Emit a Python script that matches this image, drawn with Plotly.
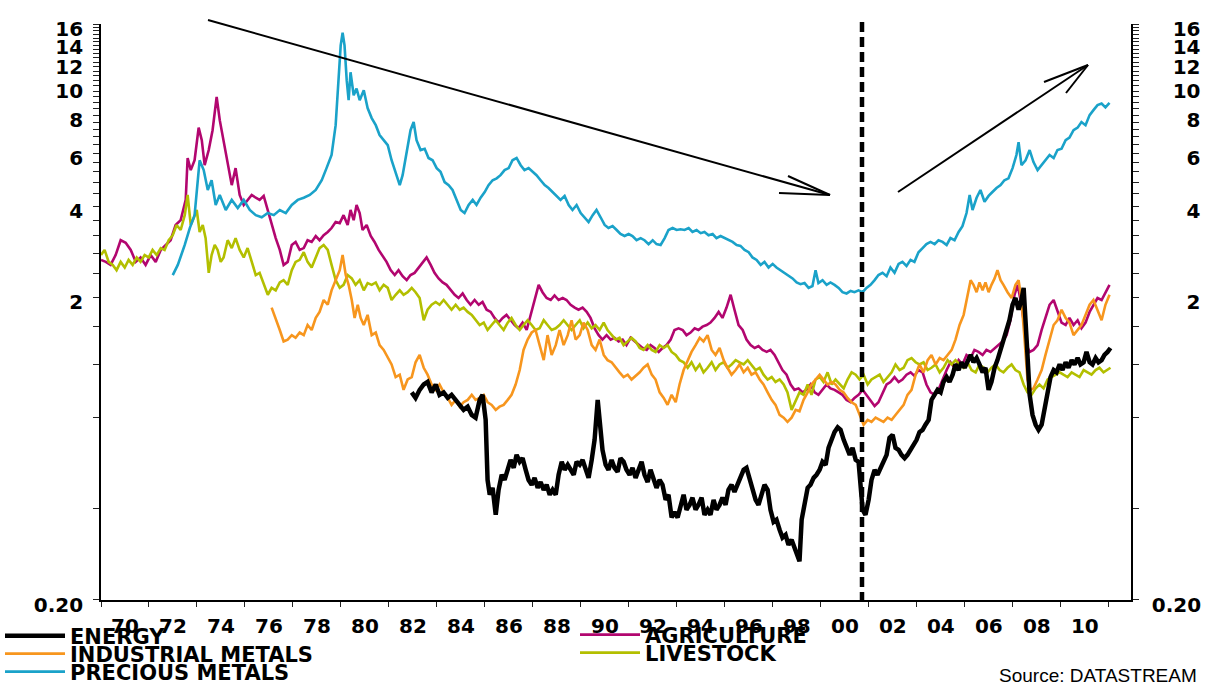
import math
import pandas as pd
import plotly.graph_objects as go

# ---------------- data ----------------
AGRI_YEARS = [1970.00, 1970.20, 1970.40, 1970.61, 1970.82, 1971.03, 1971.24, 1971.45, 1971.65, 1971.86,
              1972.07, 1972.28, 1972.49, 1972.70, 1972.90, 1973.11, 1973.32, 1973.53, 1973.61, 1973.74,
              1973.90, 1974.07, 1974.20, 1974.32, 1974.49, 1974.65, 1974.82, 1974.95,
              1975.11, 1975.28, 1975.45, 1975.61, 1975.78, 1975.95, 1976.11, 1976.28, 1976.45, 1976.61,
              1976.78, 1976.95, 1977.11, 1977.28, 1977.45, 1977.61, 1977.78, 1977.95, 1978.11, 1978.28,
              1978.45, 1978.61, 1978.78, 1978.95, 1979.11, 1979.28, 1979.45, 1979.61, 1979.78, 1979.95,
              1980.11, 1980.28, 1980.40, 1980.53, 1980.65, 1980.78, 1980.90,
              1981.07, 1981.24, 1981.40, 1981.57, 1981.74, 1981.90, 1982.07, 1982.24, 1982.40, 1982.57,
              1982.74, 1982.90, 1983.07, 1983.24, 1983.40, 1983.57, 1983.74, 1983.90, 1984.07, 1984.24,
              1984.40, 1984.57, 1984.74, 1984.90, 1985.07, 1985.24, 1985.40, 1985.57, 1985.74, 1985.90,
              1986.07, 1986.24, 1986.40, 1986.57, 1986.74, 1986.90, 1987.07, 1987.24, 1987.40, 1987.57,
              1987.74, 1987.90, 1988.07, 1988.24, 1988.40, 1988.57, 1988.74, 1988.90, 1989.07, 1989.24,
              1989.40, 1989.57, 1989.74, 1989.90, 1990.07, 1990.24, 1990.40, 1990.57, 1990.74, 1990.90,
              1991.07, 1991.24, 1991.40, 1991.57, 1991.74, 1991.90, 1992.07, 1992.24, 1992.40, 1992.57,
              1992.74, 1992.90, 1993.07, 1993.24, 1993.40, 1993.57, 1993.74, 1993.90, 1994.07, 1994.24,
              1994.40, 1994.57, 1994.74, 1994.90, 1995.07, 1995.24, 1995.40, 1995.57, 1995.74, 1995.90,
              1996.07, 1996.24, 1996.40, 1996.57, 1996.74, 1996.90, 1997.07, 1997.24, 1997.40, 1997.57,
              1997.74, 1997.90, 1998.07, 1998.24, 1998.40, 1998.57, 1998.74, 1998.90, 1999.07, 1999.24,
              1999.40, 1999.57, 1999.74, 1999.90, 2000.07, 2000.24, 2000.40, 2000.57, 2000.74, 2000.90,
              2001.07, 2001.24, 2001.40, 2001.57, 2001.74, 2001.90, 2002.07, 2002.24, 2002.40, 2002.57,
              2002.74, 2002.90, 2003.07, 2003.24, 2003.40, 2003.57, 2003.74, 2003.90, 2004.07, 2004.24,
              2004.40, 2004.57, 2004.74, 2004.90, 2005.07, 2005.24, 2005.40, 2005.57, 2005.74, 2005.90,
              2006.07, 2006.24, 2006.40, 2006.57, 2006.74, 2006.90, 2007.07, 2007.24, 2007.40, 2007.57,
              2007.74, 2007.90, 2008.07, 2008.20, 2008.32, 2008.45, 2008.57, 2008.70, 2008.86, 2009.03,
              2009.20, 2009.36, 2009.53, 2009.70, 2009.86, 2010.03, 2010.20, 2010.36, 2010.53, 2010.70,
              2010.86, 2011.03, 2011.20, 2011.36, 2011.53, 2011.70, 2011.86, 2012.03]
AGRI_VALUES = [2.66, 2.62, 2.56, 2.76, 3.09, 3.03, 2.87, 2.62, 2.71, 2.56,
               2.76, 2.62, 2.87, 2.98, 3.09, 3.47, 3.60, 4.20, 5.78, 5.27,
               5.68, 7.28, 6.62, 5.47, 6.14, 7.14, 9.20, 7.71,
               6.62, 5.68, 4.70, 5.35, 4.36, 4.04, 4.20, 4.36, 4.27, 4.20,
               4.33, 3.89, 3.47, 3.14, 2.87, 2.56, 2.62, 2.98, 3.05, 2.87,
               2.91, 3.09, 3.05, 3.19, 3.09, 3.21, 3.29, 3.39, 3.55, 3.52,
               3.74, 3.47, 3.89, 3.60, 4.04, 3.80, 3.34,
               3.47, 3.19, 3.05, 2.87, 2.74, 2.62, 2.46, 2.37, 2.46, 2.35,
               2.28, 2.37, 2.41, 2.51, 2.62, 2.71, 2.56, 2.41, 2.31, 2.24,
               2.20, 2.11, 2.04, 1.99, 2.06, 1.96, 1.89, 1.96, 1.89, 1.93,
               1.82, 1.79, 1.71, 1.65, 1.71, 1.75, 1.68, 1.62, 1.58, 1.65,
               1.56, 1.75, 1.96, 2.20, 2.08, 1.99, 1.96, 2.03, 1.96, 1.99,
               1.96, 1.89, 1.85, 1.82, 1.85, 1.79, 1.71, 1.58, 1.50, 1.45,
               1.50, 1.45, 1.47, 1.43, 1.45, 1.39, 1.47, 1.43, 1.39, 1.36,
               1.34, 1.39, 1.36, 1.32, 1.36, 1.39, 1.45, 1.56, 1.58, 1.56,
               1.50, 1.53, 1.58, 1.56, 1.60, 1.62, 1.65, 1.71, 1.79, 1.71,
               1.85, 2.04, 1.82, 1.62, 1.56, 1.45, 1.39, 1.36, 1.38, 1.34,
               1.32, 1.34, 1.29, 1.22, 1.15, 1.11, 1.03, 0.989, 1.00, 0.97,
               0.989, 1.03, 0.97, 0.952, 0.989, 1.03, 1.00, 0.989, 0.97, 0.952,
               0.916, 0.90, 0.93, 0.952, 0.989, 0.952, 0.916, 0.875, 0.90, 0.97,
               1.03, 1.05, 1.09, 1.05, 1.07, 1.11, 1.13, 1.10, 1.15, 1.13,
               1.03, 0.97, 0.952, 0.989, 1.07, 1.15, 1.22, 1.17, 1.24, 1.20,
               1.29, 1.26, 1.34, 1.32, 1.29, 1.34, 1.32, 1.36, 1.39, 1.43,
               1.50, 1.68, 2.04, 2.20, 1.96, 1.68, 1.39, 1.32, 1.34, 1.39,
               1.56, 1.71, 1.89, 1.96, 1.79, 1.65, 1.62, 1.71, 1.62, 1.68,
               1.58, 1.65, 1.79, 1.89, 1.99, 1.96, 2.08, 2.20]

LIVE_YEARS = [1970.00, 1970.15, 1970.32, 1970.49, 1970.65, 1970.82, 1970.99, 1971.15, 1971.32, 1971.49,
              1971.65, 1971.82, 1971.99, 1972.15, 1972.32, 1972.49, 1972.65, 1972.82, 1972.99, 1973.15,
              1973.32, 1973.49, 1973.61, 1973.74, 1973.86, 1973.99, 1974.11, 1974.24, 1974.36, 1974.49,
              1974.61, 1974.74, 1974.86, 1974.99,
              1975.11, 1975.28, 1975.45, 1975.61, 1975.78, 1975.95, 1976.11, 1976.28, 1976.45, 1976.61,
              1976.78, 1976.95, 1977.11, 1977.28, 1977.45, 1977.61, 1977.78, 1977.95, 1978.11, 1978.28,
              1978.45, 1978.61, 1978.78, 1978.95, 1979.11, 1979.28, 1979.45, 1979.61, 1979.78, 1979.95,
              1980.11, 1980.28, 1980.45, 1980.61, 1980.78, 1980.95, 1981.11, 1981.28, 1981.45, 1981.61,
              1981.78, 1981.95, 1982.11, 1982.28, 1982.45, 1982.61, 1982.78, 1982.95, 1983.11, 1983.28,
              1983.45, 1983.61, 1983.78, 1983.95, 1984.11, 1984.28, 1984.45, 1984.61, 1984.78, 1984.95,
              1985.11, 1985.28, 1985.45, 1985.61, 1985.78, 1985.95, 1986.11, 1986.28, 1986.45, 1986.61,
              1986.78, 1986.95, 1987.11, 1987.28, 1987.45, 1987.61, 1987.78, 1987.95, 1988.11, 1988.28,
              1988.45, 1988.61, 1988.78, 1988.95, 1989.11, 1989.28, 1989.45, 1989.61, 1989.78, 1989.95,
              1990.11, 1990.28, 1990.45, 1990.61, 1990.78, 1990.95, 1991.11, 1991.28, 1991.45, 1991.61,
              1991.78, 1991.95, 1992.11, 1992.28, 1992.45, 1992.61, 1992.78, 1992.95, 1993.11, 1993.28,
              1993.45, 1993.61, 1993.78, 1993.95, 1994.11, 1994.28, 1994.45, 1994.61, 1994.78, 1994.95,
              1995.11, 1995.28, 1995.45, 1995.61, 1995.78, 1995.95, 1996.11, 1996.28, 1996.45, 1996.61,
              1996.78, 1996.95, 1997.11, 1997.28, 1997.45, 1997.61, 1997.78, 1997.95, 1998.11, 1998.28,
              1998.45, 1998.61, 1998.78, 1998.95, 1999.11, 1999.28, 1999.45, 1999.61, 1999.78, 1999.95,
              2000.11, 2000.28, 2000.45, 2000.61, 2000.78, 2000.95, 2001.11, 2001.28, 2001.45, 2001.61,
              2001.78, 2001.95, 2002.11, 2002.28, 2002.45, 2002.61, 2002.78, 2002.95, 2003.11, 2003.28,
              2003.45, 2003.61, 2003.78, 2003.95, 2004.11, 2004.28, 2004.45, 2004.61, 2004.78, 2004.95,
              2005.11, 2005.28, 2005.45, 2005.61, 2005.78, 2005.95, 2006.11, 2006.28, 2006.45, 2006.61,
              2006.78, 2006.95, 2007.11, 2007.28, 2007.45, 2007.61, 2007.78, 2007.95, 2008.11, 2008.28,
              2008.45, 2008.61, 2008.78, 2008.95, 2009.11, 2009.28, 2009.45, 2009.61, 2009.78, 2009.95,
              2010.11, 2010.28, 2010.45, 2010.61, 2010.78, 2010.95, 2011.11, 2011.28, 2011.45, 2011.61,
              2011.78, 2011.95, 2012.07]
LIVE_VALUES = [2.76, 2.87, 2.62, 2.56, 2.46, 2.62, 2.51, 2.66, 2.56, 2.71,
               2.62, 2.76, 2.71, 2.87, 2.76, 2.91, 2.87, 3.09, 3.21, 3.47,
               3.34, 3.74, 4.36, 3.47, 3.65, 3.89, 3.29, 3.47, 3.14, 2.41,
               2.76, 2.98, 2.87, 2.62,
               2.71, 3.09, 2.91, 3.14, 2.87, 2.71, 2.91, 2.62, 2.37, 2.41,
               2.20, 2.04, 2.15, 2.11, 2.24, 2.28, 2.20, 2.46, 2.62, 2.66,
               2.82, 2.62, 2.51, 2.71, 2.91, 2.98, 2.87, 2.56, 2.28, 2.15,
               2.20, 2.37, 2.31, 2.20, 2.28, 2.11, 2.23, 2.20, 2.24, 2.11,
               2.20, 2.15, 1.96, 2.04, 2.11, 2.04, 2.08, 2.15, 2.08, 1.99,
               1.68, 1.82, 1.89, 1.93, 1.89, 1.96, 1.89, 1.82, 1.89, 1.82,
               1.85, 1.79, 1.75, 1.68, 1.62, 1.65, 1.56, 1.62, 1.68, 1.62,
               1.56, 1.65, 1.71, 1.62, 1.56, 1.62, 1.68, 1.62, 1.56, 1.58,
               1.68, 1.62, 1.56, 1.58, 1.62, 1.68, 1.62, 1.56, 1.62, 1.68,
               1.58, 1.65, 1.58, 1.62, 1.56, 1.65, 1.56, 1.50, 1.45, 1.47,
               1.39, 1.43, 1.47, 1.43, 1.36, 1.34, 1.39, 1.34, 1.32, 1.39,
               1.36, 1.39, 1.32, 1.29, 1.24, 1.22, 1.17, 1.22, 1.15, 1.20,
               1.13, 1.17, 1.22, 1.15, 1.20, 1.22, 1.17, 1.20, 1.24, 1.22,
               1.20, 1.24, 1.20, 1.15, 1.17, 1.11, 1.07, 1.09, 1.05, 1.07,
               1.03, 0.97, 0.849, 0.916, 0.97, 0.952, 1.03, 0.952, 1.07, 1.09,
               1.05, 1.13, 1.03, 1.07, 1.03, 1.00, 1.07, 1.13, 1.11, 1.07,
               1.11, 1.03, 1.07, 1.09, 1.11, 1.05, 1.09, 1.13, 1.20, 1.15,
               1.17, 1.24, 1.26, 1.22, 1.20, 1.22, 1.15, 1.17, 1.20, 1.13,
               1.17, 1.24, 1.20, 1.24, 1.20, 1.17, 1.22, 1.15, 1.13, 1.20,
               1.17, 1.13, 1.17, 1.20, 1.15, 1.13, 1.17, 1.20, 1.15, 1.13,
               1.03, 0.97, 0.952, 1.00, 1.03, 1.00, 1.07, 1.09, 1.11, 1.13,
               1.11, 1.09, 1.13, 1.11, 1.09, 1.15, 1.13, 1.11, 1.15, 1.17,
               1.13, 1.15, 1.17]

INDU_YEARS = [1977.11, 1977.28, 1977.45, 1977.61, 1977.78, 1977.95, 1978.11, 1978.28, 1978.45, 1978.61,
              1978.78, 1978.95, 1979.11, 1979.28, 1979.45, 1979.61, 1979.78, 1979.95, 1980.07, 1980.20,
              1980.32, 1980.45, 1980.57, 1980.70, 1980.82, 1980.95, 1981.11, 1981.28, 1981.45, 1981.61,
              1981.78, 1981.95, 1982.11, 1982.28, 1982.45, 1982.61, 1982.78, 1982.95, 1983.11, 1983.28,
              1983.45, 1983.61, 1983.78, 1983.95, 1984.11, 1984.28, 1984.45, 1984.61, 1984.78, 1984.95,
              1985.11, 1985.28, 1985.45, 1985.61, 1985.78, 1985.95, 1986.11, 1986.28, 1986.45, 1986.61,
              1986.78, 1986.95, 1987.11, 1987.28, 1987.45, 1987.61, 1987.78, 1987.95, 1988.11, 1988.28,
              1988.45, 1988.61, 1988.78, 1988.95, 1989.11, 1989.28, 1989.45, 1989.61, 1989.78, 1989.95,
              1990.11, 1990.28, 1990.45, 1990.61, 1990.78, 1990.95, 1991.11, 1991.28, 1991.45, 1991.61,
              1991.78, 1991.95, 1992.11, 1992.28, 1992.45, 1992.61, 1992.78, 1992.95, 1993.11, 1993.28,
              1993.45, 1993.61, 1993.78, 1993.95, 1994.11, 1994.28, 1994.45, 1994.61, 1994.78, 1994.95,
              1995.11, 1995.28, 1995.45, 1995.61, 1995.78, 1995.95, 1996.11, 1996.28, 1996.45, 1996.61,
              1996.78, 1996.95, 1997.11, 1997.28, 1997.45, 1997.61, 1997.78, 1997.95, 1998.11, 1998.28,
              1998.45, 1998.61, 1998.78, 1998.95, 1999.11, 1999.28, 1999.45, 1999.61, 1999.78, 1999.95,
              2000.11, 2000.28, 2000.45, 2000.61, 2000.78, 2000.95, 2001.11, 2001.28, 2001.45, 2001.61,
              2001.78, 2001.95, 2002.11, 2002.28, 2002.45, 2002.61, 2002.78, 2002.95, 2003.11, 2003.28,
              2003.45, 2003.61, 2003.78, 2003.95, 2004.11, 2004.28, 2004.45, 2004.61, 2004.78, 2004.95,
              2005.11, 2005.28, 2005.45, 2005.61, 2005.78, 2005.95, 2006.11, 2006.24, 2006.36, 2006.49,
              2006.61, 2006.74, 2006.86, 2006.99, 2007.11, 2007.24, 2007.36, 2007.49, 2007.61, 2007.78,
              2007.95, 2008.11, 2008.24, 2008.36, 2008.49, 2008.61, 2008.74, 2008.86, 2009.03, 2009.20,
              2009.36, 2009.53, 2009.70, 2009.86, 2010.03, 2010.20, 2010.36, 2010.53, 2010.70, 2010.86,
              2011.03, 2011.20, 2011.36, 2011.53, 2011.70, 2011.86, 2012.03]
INDU_VALUES = [1.85, 1.71, 1.56, 1.43, 1.45, 1.50, 1.47, 1.53, 1.50, 1.62,
               1.56, 1.71, 1.79, 1.96, 1.89, 2.11, 2.28, 2.46, 2.76, 2.37,
               2.20, 1.96, 1.71, 1.89, 1.71, 1.62, 1.75, 1.50, 1.53, 1.39,
               1.34, 1.26, 1.20, 1.09, 1.11, 0.989, 1.07, 1.09, 1.22, 1.29,
               1.17, 1.11, 1.03, 0.989, 1.03, 0.97, 0.93, 0.882, 0.916, 0.87,
               0.90, 0.916, 0.952, 0.916, 0.93, 0.952, 0.90, 0.882, 0.849, 0.87,
               0.882, 0.916, 0.952, 1.03, 1.15, 1.34, 1.45, 1.53, 1.56, 1.39,
               1.24, 1.50, 1.29, 1.39, 1.56, 1.39, 1.50, 1.68, 1.45, 1.50,
               1.65, 1.56, 1.39, 1.34, 1.45, 1.29, 1.24, 1.22, 1.17, 1.13,
               1.09, 1.11, 1.07, 1.10, 1.13, 1.17, 1.20, 1.11, 1.07, 0.97,
               0.93, 0.882, 0.952, 0.90, 1.03, 1.15, 1.24, 1.32, 1.39, 1.47,
               1.43, 1.50, 1.34, 1.29, 1.36, 1.24, 1.17, 1.11, 1.15, 1.20,
               1.13, 1.17, 1.11, 1.13, 1.07, 1.03, 0.97, 0.916, 0.882, 0.817,
               0.80, 0.775, 0.80, 0.849, 0.84, 0.916, 0.97, 1.03, 1.07, 1.11,
               1.07, 1.03, 1.05, 1.03, 0.989, 0.97, 0.93, 0.90, 0.882, 0.817,
               0.758, 0.787, 0.775, 0.80, 0.787, 0.775, 0.80, 0.787, 0.817, 0.849,
               0.882, 0.952, 0.989, 1.11, 1.20, 1.13, 1.24, 1.29, 1.20, 1.26,
               1.24, 1.29, 1.34, 1.45, 1.62, 1.75, 2.04, 2.28, 2.20, 2.08,
               2.24, 2.11, 2.24, 2.08, 2.20, 2.31, 2.46, 2.28, 2.20, 2.08,
               1.99, 2.20, 2.28, 1.96, 1.45, 1.07, 0.989, 1.00, 1.07, 1.15,
               1.29, 1.45, 1.62, 1.68, 1.82, 1.71, 1.65, 1.50, 1.56, 1.62,
               1.75, 1.89, 1.96, 1.82, 1.68, 1.89, 2.04]

PREC_YEARS = [1972.99, 1973.20, 1973.49, 1973.70, 1973.90, 1974.11, 1974.28, 1974.45, 1974.61, 1974.78,
              1974.95, 1975.20, 1975.45, 1975.70, 1975.95, 1976.20, 1976.45, 1976.70, 1976.95, 1977.20,
              1977.45, 1977.70, 1977.95, 1978.20, 1978.45, 1978.70, 1978.95, 1979.20, 1979.40, 1979.61,
              1979.78, 1979.90, 1979.99, 1980.07, 1980.15, 1980.24, 1980.32, 1980.40, 1980.53, 1980.65,
              1980.78, 1980.95, 1981.11, 1981.28, 1981.45, 1981.61, 1981.78, 1981.95, 1982.11, 1982.28,
              1982.45, 1982.57, 1982.74, 1982.90, 1983.03, 1983.15, 1983.32, 1983.49, 1983.65,
              1983.82, 1983.99, 1984.15, 1984.32, 1984.49, 1984.65, 1984.82, 1984.99, 1985.15, 1985.32,
              1985.49, 1985.65, 1985.82, 1985.99, 1986.15, 1986.32, 1986.49, 1986.65, 1986.82, 1986.99,
              1987.15, 1987.32, 1987.49, 1987.65, 1987.82, 1987.99, 1988.15, 1988.32, 1988.49, 1988.65,
              1988.82, 1988.99, 1989.15, 1989.32, 1989.49, 1989.65, 1989.82, 1989.99, 1990.15, 1990.32,
              1990.49, 1990.65, 1990.82, 1990.99, 1991.15, 1991.32, 1991.49, 1991.65, 1991.82, 1991.99,
              1992.15, 1992.32, 1992.49, 1992.65, 1992.82, 1992.99, 1993.15, 1993.32, 1993.49, 1993.65,
              1993.82, 1993.99, 1994.15, 1994.32, 1994.49, 1994.65, 1994.82, 1994.99, 1995.15, 1995.32,
              1995.49, 1995.65, 1995.82, 1995.99, 1996.15, 1996.32, 1996.49, 1996.65, 1996.82, 1996.99,
              1997.15, 1997.32, 1997.49, 1997.65, 1997.82, 1997.99, 1998.15, 1998.32, 1998.49, 1998.65,
              1998.82, 1998.99, 1999.15, 1999.32, 1999.49, 1999.65, 1999.78, 1999.90,
              2000.07, 2000.24, 2000.40, 2000.57, 2000.74, 2000.90, 2001.07, 2001.24, 2001.40, 2001.57,
              2001.74, 2001.90, 2002.07, 2002.24, 2002.40, 2002.57, 2002.74, 2002.90, 2003.07, 2003.24,
              2003.40, 2003.57, 2003.74, 2003.90, 2004.07, 2004.24, 2004.40, 2004.57, 2004.74, 2004.90,
              2005.07, 2005.24, 2005.40, 2005.57, 2005.74, 2005.90, 2006.07, 2006.20, 2006.32, 2006.49,
              2006.65, 2006.82, 2006.99, 2007.15, 2007.32, 2007.49, 2007.65, 2007.82, 2007.99, 2008.15,
              2008.24, 2008.36, 2008.53, 2008.70, 2008.86, 2009.03, 2009.20, 2009.36, 2009.53, 2009.70,
              2009.86, 2010.03, 2010.20, 2010.36, 2010.53, 2010.70, 2010.86, 2011.03, 2011.20, 2011.36,
              2011.53, 2011.70, 2011.86, 2012.03]
PREC_VALUES = [2.37, 2.56, 2.98, 3.39, 3.74, 5.68, 5.27, 4.53, 4.88, 4.04,
               4.36, 3.89, 4.20, 3.95, 4.20, 3.89, 3.74, 3.68, 3.80, 3.74,
               3.89, 3.80, 4.04, 4.20, 4.27, 4.36, 4.53, 4.88, 5.35, 5.91,
               7.42, 10.45, 13.63, 15.0, 13.63, 10.45, 8.97, 11.1, 9.32, 9.80,
               8.97, 9.68, 8.45, 7.83, 7.42, 6.88, 6.62, 6.37, 5.68, 5.20,
               4.70, 5.07, 6.14, 7.14, 7.60, 6.62, 6.14, 6.20, 5.78,
               5.68, 5.35, 5.20, 4.81, 4.70, 4.53, 4.20, 3.89, 3.80, 4.04,
               4.20, 4.04, 4.27, 4.46, 4.70, 4.88, 4.95, 5.07, 5.27, 5.35,
               5.68, 5.78, 5.47, 5.27, 5.35, 5.20, 5.07, 4.88, 4.70, 4.60,
               4.46, 4.33, 4.20, 4.33, 4.04, 3.89, 4.04, 3.80, 3.68, 3.55,
               3.74, 3.89, 3.68, 3.47, 3.39, 3.44, 3.34, 3.24, 3.19, 3.24,
               3.19, 3.09, 3.14, 3.09, 3.00, 3.09, 3.00, 2.98, 3.14, 3.34,
               3.39, 3.34, 3.36, 3.34, 3.39, 3.29, 3.34, 3.26, 3.29, 3.21,
               3.24, 3.14, 3.19, 3.14, 3.09, 3.05, 2.98, 2.96, 2.87, 2.82,
               2.71, 2.66, 2.56, 2.62, 2.51, 2.58, 2.51, 2.46, 2.41, 2.35,
               2.31, 2.24, 2.21, 2.23, 2.15, 2.18, 2.46, 2.23,
               2.28, 2.20, 2.24, 2.20, 2.15, 2.08, 2.06, 2.10, 2.08, 2.11,
               2.08, 2.15, 2.20, 2.28, 2.37, 2.41, 2.35, 2.51, 2.41, 2.58,
               2.62, 2.54, 2.66, 2.62, 2.82, 2.91, 3.00, 3.05, 3.00, 3.09,
               3.05, 2.98, 3.14, 3.09, 3.29, 3.44, 3.80, 4.36, 3.89, 4.27,
               4.53, 4.14, 4.33, 4.46, 4.60, 4.70, 4.88, 4.95, 5.35, 5.91,
               6.52, 5.47, 5.68, 6.14, 5.60, 5.27, 5.47, 5.68, 5.91, 5.78,
               6.14, 6.20, 6.62, 6.75, 7.14, 7.28, 7.60, 7.42, 8.01, 8.32,
               8.64, 8.75, 8.50, 8.80]

ENER_YEARS = [1982.95, 1983.11, 1983.28, 1983.45, 1983.61, 1983.78, 1983.95, 1984.11, 1984.28, 1984.45,
              1984.61, 1984.78, 1984.95, 1985.11, 1985.28, 1985.45, 1985.61, 1985.78, 1985.90, 1986.03,
              1986.11, 1986.20, 1986.32, 1986.45, 1986.57, 1986.70, 1986.82, 1986.95, 1987.07, 1987.20,
              1987.32, 1987.45, 1987.57, 1987.70, 1987.82, 1987.95, 1988.07, 1988.20, 1988.32, 1988.45,
              1988.57, 1988.70, 1988.82, 1988.95, 1989.07, 1989.20, 1989.32, 1989.45, 1989.57, 1989.70,
              1989.82, 1989.95, 1990.07, 1990.20, 1990.32, 1990.45, 1990.57, 1990.70, 1990.78, 1990.90,
              1991.03, 1991.15, 1991.28, 1991.40, 1991.53, 1991.65, 1991.78, 1991.90, 1992.03, 1992.15,
              1992.28, 1992.40, 1992.53, 1992.65, 1992.78, 1992.90, 1993.03, 1993.15, 1993.28, 1993.40,
              1993.53, 1993.65, 1993.78, 1993.90, 1994.03, 1994.15, 1994.28, 1994.40, 1994.53, 1994.65,
              1994.78, 1994.90, 1995.03, 1995.15, 1995.28, 1995.40, 1995.53, 1995.65, 1995.78, 1995.90,
              1996.03, 1996.15, 1996.28, 1996.40, 1996.53, 1996.65, 1996.78, 1996.90, 1997.03, 1997.15,
              1997.28, 1997.40, 1997.53, 1997.65, 1997.78, 1997.90, 1998.03, 1998.15, 1998.28, 1998.40,
              1998.53, 1998.65, 1998.78, 1998.90, 1999.03, 1999.11, 1999.20, 1999.32, 1999.45, 1999.57,
              1999.70, 1999.82, 1999.95, 2000.07, 2000.20, 2000.32, 2000.45, 2000.57, 2000.70, 2000.82,
              2000.95, 2001.07, 2001.20, 2001.32, 2001.45, 2001.57, 2001.65, 2001.74, 2001.86, 2001.99,
              2002.11, 2002.24, 2002.36, 2002.49, 2002.61, 2002.74, 2002.86, 2002.99, 2003.11, 2003.24,
              2003.36, 2003.49, 2003.61, 2003.74, 2003.86, 2003.99, 2004.11, 2004.24, 2004.36, 2004.49,
              2004.61, 2004.74, 2004.86, 2004.99, 2005.11, 2005.24, 2005.36, 2005.49, 2005.61, 2005.74,
              2005.86, 2005.99, 2006.11, 2006.24, 2006.36, 2006.49, 2006.61, 2006.74, 2006.86, 2006.99,
              2007.11, 2007.24, 2007.36, 2007.49, 2007.61, 2007.74, 2007.86, 2007.99, 2008.11, 2008.24,
              2008.36, 2008.45, 2008.53, 2008.61, 2008.70, 2008.82, 2008.95, 2009.07, 2009.20, 2009.32,
              2009.45, 2009.57, 2009.70, 2009.82, 2009.95, 2010.07, 2010.20, 2010.32, 2010.45, 2010.57,
              2010.70, 2010.82, 2010.95, 2011.07, 2011.20, 2011.32, 2011.45, 2011.57, 2011.70, 2011.82,
              2011.95, 2012.07]
ENER_VALUES = [0.97, 0.93, 0.989, 1.03, 1.05, 0.97, 1.03, 0.952, 0.97, 0.93,
               0.952, 0.916, 0.882, 0.849, 0.87, 0.817, 0.80, 0.916, 0.952, 0.787,
               0.498, 0.445, 0.469, 0.382, 0.462, 0.518, 0.498, 0.538, 0.580, 0.546,
               0.603, 0.572, 0.588, 0.538, 0.498, 0.480, 0.506, 0.469, 0.490, 0.462,
               0.480, 0.445, 0.462, 0.445, 0.518, 0.572, 0.538, 0.559, 0.538, 0.518,
               0.572, 0.559, 0.580, 0.538, 0.506, 0.580, 0.676, 0.916, 0.787, 0.626,
               0.559, 0.538, 0.580, 0.546, 0.530, 0.588, 0.572, 0.538, 0.518, 0.546,
               0.506, 0.538, 0.572, 0.518, 0.490, 0.538, 0.506, 0.469, 0.498, 0.480,
               0.428, 0.445, 0.374, 0.390, 0.374, 0.412, 0.445, 0.397, 0.412, 0.435,
               0.397, 0.412, 0.435, 0.382, 0.397, 0.382, 0.428, 0.397, 0.412, 0.435,
               0.412, 0.462, 0.480, 0.455, 0.480, 0.506, 0.538, 0.546, 0.498, 0.455,
               0.428, 0.412, 0.445, 0.480, 0.462, 0.397, 0.362, 0.368, 0.341, 0.321,
               0.328, 0.304, 0.316, 0.300, 0.282, 0.268, 0.368, 0.412, 0.469, 0.480,
               0.506, 0.518, 0.538, 0.572, 0.559, 0.636, 0.676, 0.717, 0.743, 0.729,
               0.676, 0.636, 0.603, 0.636, 0.580, 0.572, 0.498, 0.397, 0.382, 0.428,
               0.498, 0.538, 0.518, 0.546, 0.572, 0.603, 0.686, 0.702, 0.636, 0.626,
               0.603, 0.588, 0.603, 0.626, 0.651, 0.676, 0.717, 0.729, 0.758, 0.787,
               0.916, 0.952, 0.989, 0.97, 1.05, 1.09, 1.05, 1.11, 1.20, 1.15,
               1.22, 1.17, 1.24, 1.29, 1.22, 1.26, 1.20, 1.13, 1.17, 0.989,
               1.05, 1.17, 1.24, 1.34, 1.43, 1.56, 1.68, 1.89, 1.99, 1.82,
               1.96, 2.15, 1.75, 1.29, 0.952, 0.817, 0.758, 0.729, 0.758, 0.849,
               0.952, 1.09, 1.15, 1.13, 1.20, 1.15, 1.22, 1.17, 1.24, 1.20,
               1.26, 1.20, 1.22, 1.32, 1.22, 1.20, 1.26, 1.22, 1.24, 1.29,
               1.32, 1.36]

SERIES_COLORS = {"ENERGY": "#000000", "INDUSTRIAL METALS": "#F7961E", "PRECIOUS METALS": "#1AA2C9",
                 "AGRICULTURE": "#B2066F", "LIVESTOCK": "#B3BF00"}

# x-axis: one label per two-year period, centred in the period
X_PERIOD_STARTS = list(range(1970, 2012, 2))
X_LABELS = ["70", "72", "74", "76", "78", "80", "82", "84", "86", "88", "90",
            "92", "94", "96", "98", "00", "02", "04", "06", "08", "10"]
Y_LABELLED = [2, 4, 6, 8, 10, 12, 14, 16]
Y_BOTTOM_LABEL = "0.20"
X_RANGE = ["1970-01-01", "2012-12-04"]
Y_MIN, Y_MAX = 0.2, 16.0


def to_dates(years):
    out = []
    for y in years:
        yi = int(math.floor(y))
        start = pd.Timestamp(year=yi, month=1, day=1)
        end = pd.Timestamp(year=yi + 1, month=1, day=1)
        out.append(start + (end - start) * (y - yi))
    return out


series = {
    "AGRICULTURE": (AGRI_YEARS, AGRI_VALUES),
    "LIVESTOCK": (LIVE_YEARS, LIVE_VALUES),
    "INDUSTRIAL METALS": (INDU_YEARS, INDU_VALUES),
    "PRECIOUS METALS": (PREC_YEARS, PREC_VALUES),
    "ENERGY": (ENER_YEARS, ENER_VALUES),
}
widths = {"ENERGY": 4.5, "INDUSTRIAL METALS": 2.6, "PRECIOUS METALS": 2.6,
          "AGRICULTURE": 2.6, "LIVESTOCK": 2.6}
legend_ids = {"ENERGY": "legend", "AGRICULTURE": "legend2", "INDUSTRIAL METALS": "legend3",
              "LIVESTOCK": "legend4", "PRECIOUS METALS": "legend5"}

fig = go.Figure()
for name, (yrs, vals) in series.items():
    fig.add_trace(go.Scatter(
        x=to_dates(yrs), y=vals, mode="lines", name=name,
        line=dict(color=SERIES_COLORS[name], width=widths[name]),
        legend=legend_ids[name], showlegend=True, hoverinfo="skip",
        yaxis="y2" if name == "ENERGY" else "y",
    ))

# ---------------- layout ----------------
W, H = 1209, 685
ML, MR, MT, MB = 101, 78, 24, 85
PW, PH = W - ML - MR, H - MT - MB


def px(X):
    return (X - ML) / PW


def py(Y):
    return (H - MB - Y) / PH


tick_vals = [Y_MIN] + [round(0.4 * k, 1) for k in range(1, 41)]
left_text, right_text = [], []
for v in tick_vals:
    if v == Y_MIN:
        left_text.append(Y_BOTTOM_LABEL)
        right_text.append(Y_BOTTOM_LABEL)
    elif abs(v - round(v)) < 1e-9 and int(round(v)) in Y_LABELLED:
        s = str(int(round(v)))
        left_text.append(s)
        right_text.append("\u00a0" * (5 if len(s) == 1 else 3) + s)
    else:
        left_text.append("")
        right_text.append("")

tick_font = dict(family="DejaVu Sans", size=20, color="black", weight="bold")
yr = [math.log10(Y_MIN) - 0.0008, math.log10(Y_MAX) + 0.0008]

common_y = dict(type="log", range=yr, tickmode="array", tickvals=tick_vals,
                ticks="outside", ticklen=6, tickwidth=1.3, tickcolor="#222",
                showline=True, linecolor="black", linewidth=1.6, showgrid=False,
                zeroline=False, tickfont=tick_font, ticklabelshift=5)

label_dates = [f"{y + 1}-01-01" for y in X_PERIOD_STARTS]   # centre of each 2-year period

fig.update_layout(
    width=W, height=H,
    margin=dict(l=ML, r=MR, t=MT, b=MB, pad=0, autoexpand=False),
    paper_bgcolor="white", plot_bgcolor="white",
    showlegend=True,
    xaxis=dict(type="date", range=X_RANGE, tickmode="array", tickvals=label_dates,
               ticktext=X_LABELS, ticks="", ticklabelstandoff=7,
               showline=True, linecolor="black", linewidth=2, showgrid=False,
               zeroline=False, tickfont=tick_font,
               minor=dict(tickmode="linear", tick0="1970-01-01", dtick="M24",
                          ticks="outside", ticklen=5, tickwidth=1.3, tickcolor="#222",
                          showgrid=False)),
    yaxis=dict(**common_y, ticktext=left_text, side="left", ticklabelstandoff=6),
    yaxis2=dict(**common_y, ticktext=right_text, side="right", overlaying="y",
                anchor="x", ticklabelstandoff=9),
)

leg_font = dict(family="DejaVu Sans", size=21, color="black", weight="bold")
leg_pos = {"legend": (0, 636), "legend3": (0, 654), "legend5": (0, 672),
           "legend2": (575, 635), "legend4": (575, 653)}
for lid, (X, Y) in leg_pos.items():
    fig.update_layout(**{lid: dict(x=X / W, y=1 - Y / H, xanchor="left", yanchor="middle",
                                   xref="container", yref="container", font=leg_font,
                                   bgcolor="rgba(0,0,0,0)", borderwidth=0,
                                   itemwidth=60, orientation="h")})

# dashed divider and trend arrows
fig.add_shape(type="line", xref="paper", yref="paper", x0=px(862), x1=px(862),
              y0=py(602), y1=py(20), line=dict(color="black", width=4.5, dash="10px,5px"))
arrow_segments = [
    ((208, 20), (830, 195)), ((788, 176), (830, 195)), ((779, 193), (830, 195)),
    ((898, 192), (1088, 65)), ((1044, 82), (1088, 65)), ((1066, 93), (1088, 65)),
]
for (a, b) in arrow_segments:
    fig.add_shape(type="line", xref="paper", yref="paper", x0=px(a[0]), y0=py(a[1]),
                  x1=px(b[0]), y1=py(b[1]), line=dict(color="black", width=2))

fig.add_annotation(text="Source: DATASTREAM", xref="paper", yref="paper",
                   x=px(1199), y=py(675), xanchor="right", yanchor="middle",
                   showarrow=False, font=dict(family="Liberation Sans", size=19, color="black"))

fig.write_html("out.html")
